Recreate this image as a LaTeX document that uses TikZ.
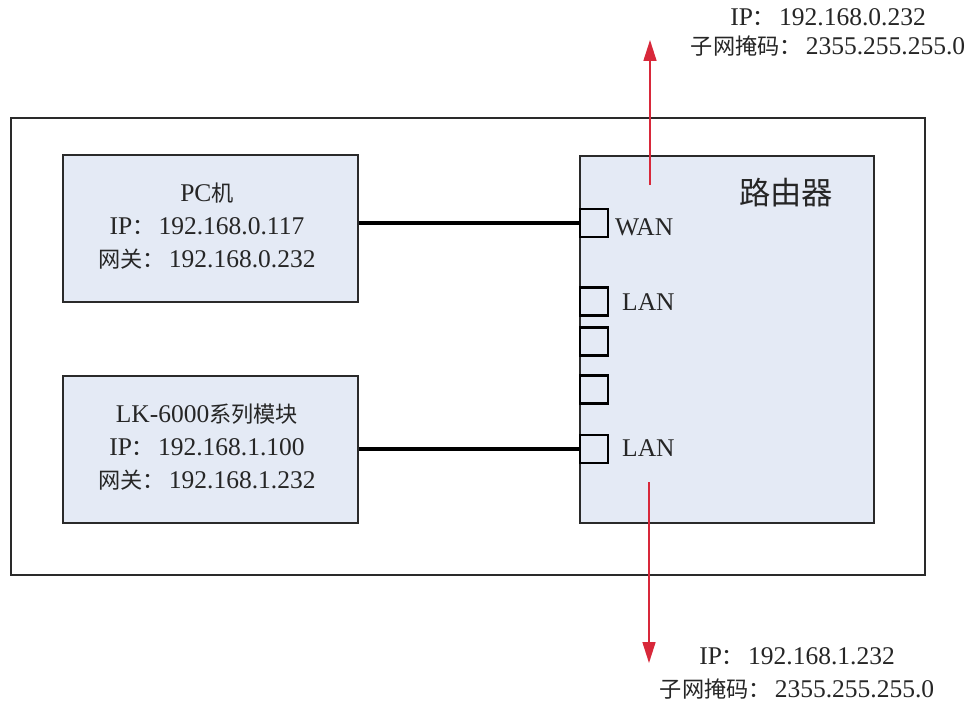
\documentclass[tikz,border=0pt]{standalone}
\usepackage{fontspec}
\setmainfont{Liberation Serif}
\newfontfamily\cjk[Scale=0.87]{Noto Sans CJK SC}
\newcommand\zcolon{{\cjk ：}\hspace{4pt}}
\usetikzlibrary{arrows.meta}
\definecolor{boxfill}{HTML}{E4EAF5}
\definecolor{arrowred}{HTML}{D8283A}
\definecolor{edge}{HTML}{2A2A2A}
\begin{document}
\begin{tikzpicture}[x=1pt,y=-1pt,
 frame/.style={draw=edge, line width=2pt, inner sep=0pt, anchor=north west},
 unit/.style={draw=edge, line width=2pt, fill=boxfill, inner sep=0pt, anchor=north west},
 port/.style={draw=black, line width=2.6pt, fill=boxfill, minimum width=28pt, minimum height=28pt, inner sep=0pt},
 lbl/.style={font=\fontsize{25.5}{33}\selectfont, align=center, inner sep=0pt, text=black!85},
 wire/.style={line width=3.5pt},
 redarrow/.style={draw=arrowred, line width=1.6pt, -{Triangle[length=21pt,width=13pt]}}
]
\useasboundingbox[fill=white] (0,0) rectangle (969,701);
\node[frame, minimum width=914pt, minimum height=457pt] (outer) at (10,117) {};
\node[unit, minimum width=295pt, minimum height=147pt] (pc) at (62,154) {};
\node[unit, minimum width=295pt, minimum height=147pt] (lk) at (62,375) {};
\node[unit, minimum width=294pt, minimum height=367pt] (router) at (579,155) {};
\node[port] (wan) at (594,223) {};
\node[port] (lan1) at (594,301.5) {};
\node[port] (p3) at (594,341.5) {};
\node[port] (p4) at (594,389.5) {};
\node[port] (lan2) at (594,449) {};
\node[lbl] (pctext) at (207,226) {PC{\cjk 机}\\IP\zcolon 192.168.0.117\\{\cjk 网关}\zcolon 192.168.0.232};
\node[lbl] (lktext) at (207,447) {LK-6000{\cjk 系列模块}\\IP\zcolon 192.168.1.100\\{\cjk 网关}\zcolon 192.168.1.232};
\node[lbl, anchor=west] (wanlbl) at (615,227) {WAN};
\node[lbl, anchor=west] (lan1lbl) at (622,302) {LAN};
\node[lbl, anchor=west] (lan2lbl) at (622,448) {LAN};
\node[font=\fontsize{36}{36}\selectfont\cjk, text=black!85, inner sep=0pt] (rtitle) at (786,193) {路由器};
\draw[wire] (pc.east |- wan) -- (wan.west);
\draw[wire] (lk.east |- lan2) -- (lan2.west);
\coordinate (upstart) at (650,185);
\coordinate (uptip) at (650,40);
\coordinate (downstart) at (649,482);
\coordinate (downtip) at (649,663);
\draw[redarrow] (upstart) -- (uptip);
\draw[redarrow] (downstart) -- (downtip);
\node[lbl, font=\fontsize{25.5}{29}\selectfont] (topinfo) at (828,32) {IP\zcolon 192.168.0.232\\{\cjk 子网掩码}\zcolon 2355.255.255.0};
\node[lbl, font=\fontsize{25.5}{33}\selectfont] (botinfo) at (797,673) {IP\zcolon 192.168.1.232\\{\cjk 子网掩码}\zcolon 2355.255.255.0};
\end{tikzpicture}
\end{document}
